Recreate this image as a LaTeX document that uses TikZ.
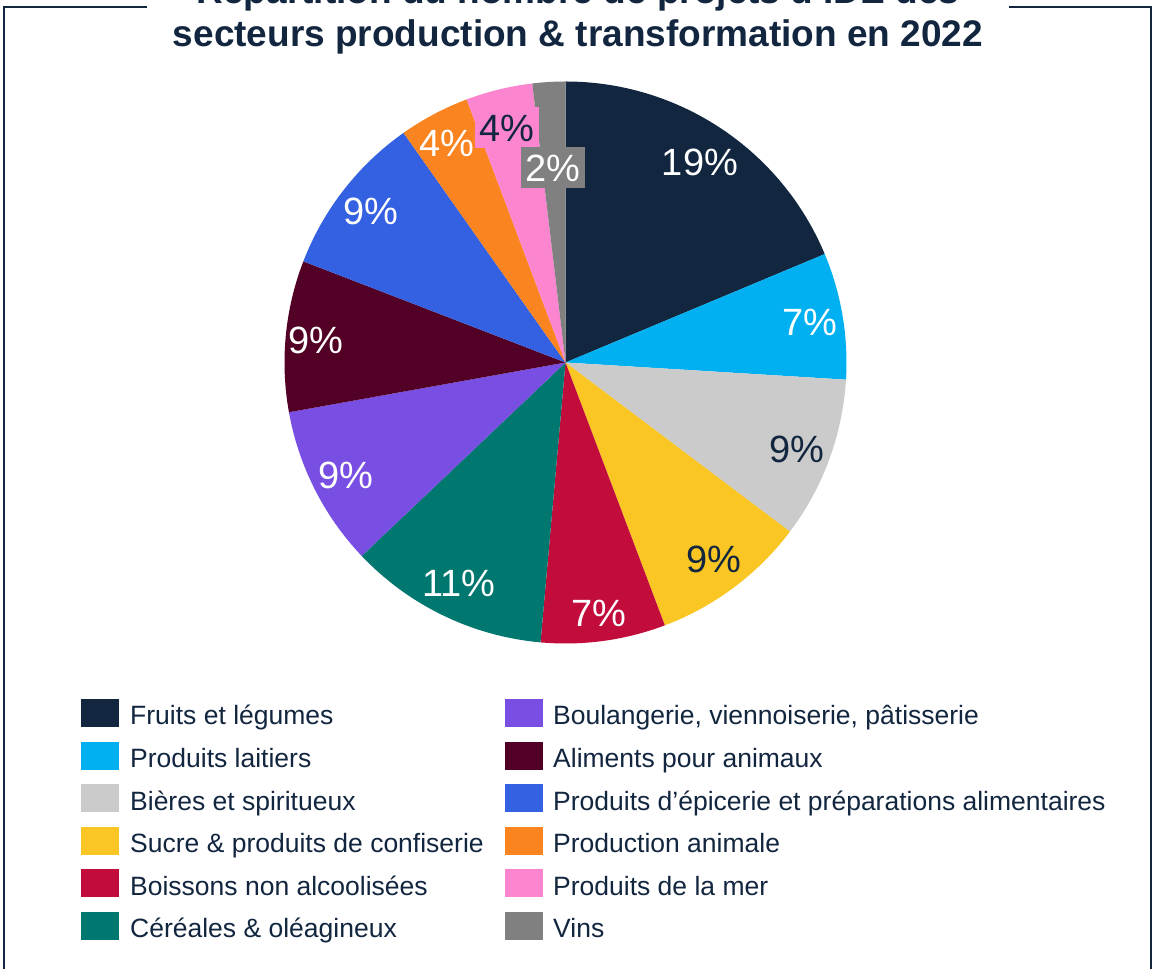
\documentclass[tikz,border=0pt]{standalone}
\usepackage{fontspec}
\setmainfont{Liberation Sans}
\definecolor{navy}{HTML}{12263F}
\definecolor{cFruits}{HTML}{12263F}
\definecolor{cLait}{HTML}{00B0F0}
\definecolor{cBiere}{HTML}{CBCBCB}
\definecolor{cSucre}{HTML}{F9C623}
\definecolor{cBoisson}{HTML}{C20C3C}
\definecolor{cCereale}{HTML}{007870}
\definecolor{cBoul}{HTML}{784FE2}
\definecolor{cAliment}{HTML}{520025}
\definecolor{cEpic}{HTML}{3460E2}
\definecolor{cProd}{HTML}{F98420}
\definecolor{cMer}{HTML}{FB86CF}
\definecolor{cVins}{HTML}{808080}
\begin{document}
\begin{tikzpicture}[x=1pt,y=1pt,
  lbl/.style={font=\fontsize{38}{40}\selectfont, text height=27.5pt, text depth=0.5pt, inner xsep=4.5pt, inner ysep=6.5pt, anchor=center},
  legtxt/.style={font=\fontsize{26.5}{30}\selectfont, text=navy, anchor=base west, inner sep=0pt},
  legbox/.style={minimum width=38pt, minimum height=28pt, inner sep=0pt, anchor=center},
  frame/.style={draw=navy, line width=2pt},
  title/.style={font=\bfseries\fontsize{37}{42}\selectfont, text=navy, anchor=base, inner sep=0pt}]
\useasboundingbox (0,0) rectangle (1152,969);
\fill[white] (0,0) rectangle (1152,969);
% frame
\coordinate (fl1) at (147,962);
\coordinate (fl2) at (4,962);
\coordinate (fl3) at (4,-10);
\coordinate (fr1) at (1009,962);
\coordinate (fr2) at (1150.5,962);
\coordinate (fr3) at (1150.5,-10);
\draw[frame] (fl1) -- (fl2) -- (fl3);
\draw[frame] (fr1) -- (fr2) -- (fr3);
% title
\node[title] (t1) at (578,965) {Répartition du nombre de projets d’IDE des};
\node[title] (t2) at (578,922) {secteurs production \& transformation en 2022};
% pie
\begin{scope}[shift={(565.5,606.5)}]
\coordinate (c) at (0,0);
\foreach \a/\b/\col in {90/22.7/cFruits, 22.7/-3.5/cLait, -3.5/-37/cBiere,
  -37/-69.3/cSucre, -69.3/-95.1/cBoisson, -95.1/-136.5/cCereale,
  -136.5/-169.8/cBoul, -169.8/-201.1/cAliment, -201.1/-234.8/cEpic,
  -234.8/-249.4/cProd, -249.4/-263.2/cMer, -263.2/-270/cVins}
  \fill[\col] (c) -- (\a:281pt) arc[start angle=\a, end angle=\b, radius=281pt] -- cycle;
\end{scope}
% slice labels
\node[lbl, text=white] (l1) at (700,807) {19\%};
\node[lbl, text=white] (l2) at (810,647) {7\%};
\node[lbl, text=navy] (l3) at (797,520) {9\%};
\node[lbl, text=navy] (l4) at (714,410) {9\%};
\node[lbl, text=white] (l5) at (599,356) {7\%};
\node[lbl, text=white] (l6) at (459,386) {11\%};
\node[lbl, text=white] (l7) at (346,494) {9\%};
\node[lbl, text=white] (l8) at (316,629) {9\%};
\node[lbl, text=white] (l9) at (371,758) {9\%};
\node[lbl, text=white] (l10) at (447,826) {4\%};
\node[lbl, text=navy, fill=cMer] (l11) at (507,841) {4\%};
\node[lbl, text=white, fill=cVins] (l12) at (553,801) {2\%};
% legend
\foreach \i/\col/\txt in {1/cFruits/Fruits et légumes, 2/cLait/Produits laitiers,
  3/cBiere/Bières et spiritueux, 4/cSucre/Sucre \& produits de confiserie,
  5/cBoisson/Boissons non alcoolisées, 6/cCereale/Céréales \& oléagineux}{
  \node[legbox, fill=\col] (ka\i) at (100,{256-42.6*(\i-1)}) {};
  \node[legtxt] (ta\i) at (130,{244-42.6*(\i-1)}) {\txt};
}
\foreach \i/\col/\txt in {1/cBoul/{Boulangerie, viennoiserie, pâtisserie}, 2/cAliment/Aliments pour animaux,
  3/cEpic/Produits d’épicerie et préparations alimentaires, 4/cProd/Production animale,
  5/cMer/Produits de la mer, 6/cVins/Vins}{
  \node[legbox, fill=\col] (kb\i) at (524,{256-42.6*(\i-1)}) {};
  \node[legtxt] (tb\i) at (553,{244-42.6*(\i-1)}) {\txt};
}
\end{tikzpicture}
\end{document}
